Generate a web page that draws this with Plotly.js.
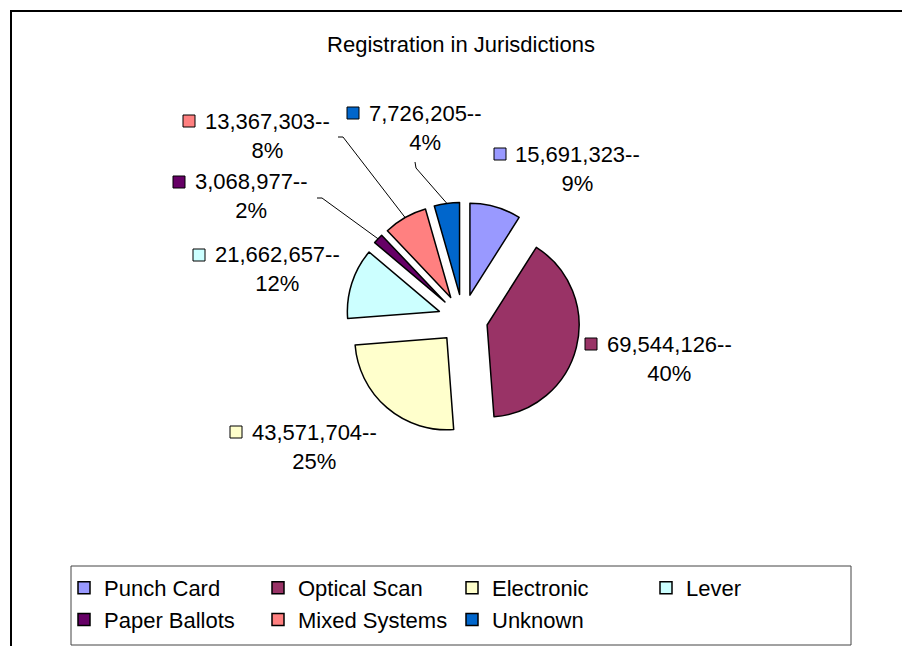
<!DOCTYPE html>
<html>
<head>
<meta charset="utf-8">
<script src="https://cdn.plot.ly/plotly-3.0.1.min.js"></script>
<style>html,body{margin:0;padding:0;background:#fff;}#chart{width:902px;height:646px;}</style>
</head>
<body>
<div id="chart"></div>
<script>
// ---- data ----
const categories = ["Punch Card", "Optical Scan", "Electronic", "Lever", "Paper Ballots", "Mixed Systems", "Unknown"];
const registrations = [15691323, 69544126, 43571704, 21662657, 3068977, 13367303, 7726205];
const sliceColors = ["#9999FF", "#993366", "#FFFFCC", "#CCFFFF", "#660066", "#FF8080", "#0066CC"];
const chartTitle = "Registration in Jurisdictions";

// ---- layout constants (pixels) ----
const W = 902, H = 646;
const FONT = "Liberation Sans, Arial, Helvetica, sans-serif";
const PIE = {cx: 463, cy: 319, r: 92, pull: 0.27};
// label placement: text centre x, first-line centre y, key-square centre x
const labelPos = [
  [577, 154, 500],
  [669, 344, 591],
  [314, 432, 236],
  [277, 255, 199],
  [251, 182, 179],
  [267, 121, 189],
  [425, 113, 353]
];
// leader-line starting points (only for slices that have one)
const leaderStart = {4: [[317, 198], [322, 198]], 5: [[338, 137], [343, 137]], 6: [[415, 162], [416, 168]]};

const px = x => x / W;
const py = y => 1 - y / H;

const half = PIE.r * (1 + PIE.pull);
const domain = {
  x: [px(PIE.cx - half), px(PIE.cx + half)],
  y: [py(PIE.cy + half), py(PIE.cy - half)]
};

const total = registrations.reduce((a, b) => a + b, 0);
const fmt = v => v.toLocaleString("en-US");
const pct = v => Math.round(100 * v / total) + "%";

// slice mid angles (clockwise from 12 o'clock)
let cum = 0;
const midFrac = registrations.map(v => { const m = (cum + v / 2) / total; cum += v; return m; });

const annotations = [];
const shapes = [];

registrations.forEach((v, i) => {
  const [tx, ty, sx] = labelPos[i];
  annotations.push({
    xref: "paper", yref: "paper",
    x: px(tx), y: py(ty + 14.5),
    xanchor: "center", yanchor: "middle",
    text: fmt(v) + "--<br>" + pct(v),
    showarrow: false, align: "center",
    font: {family: FONT, size: 22, color: "#000"}
  });
  shapes.push({
    type: "rect", xref: "paper", yref: "paper",
    x0: px(sx - 6), x1: px(sx + 6), y0: py(ty - 6), y1: py(ty + 6),
    fillcolor: sliceColors[i], line: {color: "#000", width: 1}, layer: "above"
  });
  if (leaderStart[i]) {
    const a = midFrac[i] * 2 * Math.PI;
    const ex = PIE.cx + half * Math.sin(a);
    const ey = PIE.cy - half * Math.cos(a);
    const [p1, p2] = leaderStart[i];
    shapes.push({
      type: "path", xref: "paper", yref: "paper",
      path: `M${px(p1[0])},${py(p1[1])} L${px(p2[0])},${py(p2[1])} L${px(ex)},${py(ey)}`,
      line: {color: "#000", width: 1}, layer: "above"
    });
  }
});

// chart border (continues past the right and bottom edges of the picture)
shapes.push({type: "rect", xref: "paper", yref: "paper",
  x0: px(11), x1: px(920), y0: py(700), y1: py(11),
  line: {color: "#000", width: 2}, fillcolor: "rgba(0,0,0,0)", layer: "below"});
// legend box
shapes.push({type: "rect", xref: "paper", yref: "paper",
  x0: px(71), x1: px(851), y0: py(645), y1: py(566),
  line: {color: "#444", width: 1}, fillcolor: "rgba(0,0,0,0)", layer: "below"});

const trace = {
  type: "pie",
  labels: categories,
  values: registrations,
  marker: {colors: sliceColors, line: {color: "#000", width: 1.5}},
  pull: registrations.map(() => PIE.pull),
  sort: false,
  direction: "clockwise",
  rotation: 0,
  textinfo: "none",
  hoverinfo: "label+value+percent",
  domain: domain
};

const layout = {
  width: W, height: H,
  margin: {l: 0, r: 0, t: 0, b: 0, pad: 0, autoexpand: false},
  paper_bgcolor: "#fff",
  font: {family: FONT, color: "#000"},
  title: {
    text: chartTitle,
    font: {family: FONT, size: 22, color: "#000"},
    x: 461 / W, xanchor: "center", xref: "paper",
    y: py(44), yanchor: "middle", yref: "container"
  },
  showlegend: true,
  legend: {
    orientation: "h",
    x: px(64), xanchor: "left",
    y: py(567), yanchor: "top",
    entrywidth: 149, entrywidthmode: "pixels",
    font: {family: FONT, size: 22, color: "#000"},
    bgcolor: "rgba(0,0,0,0)", borderwidth: 0,
    traceorder: "normal"
  },
  shapes: shapes,
  annotations: annotations
};

Plotly.newPlot("chart", [trace], layout, {displayModeBar: false, staticPlot: true});
</script>
</body>
</html>
